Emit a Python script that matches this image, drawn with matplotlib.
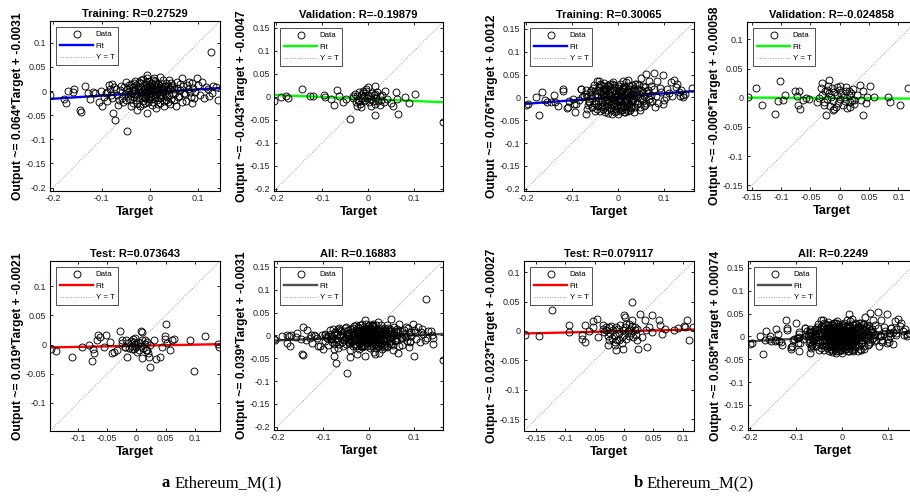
import numpy as np
import matplotlib
matplotlib.use("Agg")
import matplotlib.pyplot as plt
from matplotlib.lines import Line2D
from matplotlib.ticker import FuncFormatter

plt.rcParams['font.family'] = ['Liberation Sans', 'DejaVu Sans']

# ---------------- data (Target, Output) ----------------
a_train = [
    (-0.208, -0.008), (-0.179, -0.016), (-0.173, -0.024), (-0.170, 0.000), (-0.159, -0.003),
    (-0.157, 0.005), (-0.135, 0.011), (-0.145, -0.040), (-0.143, -0.043), (-0.128, -0.005),
    (-0.124, -0.016), (-0.113, -0.005), (-0.106, -0.023), (-0.099, -0.030), (-0.092, -0.005),
    (-0.085, 0.012), (-0.078, 0.015), (-0.076, -0.046), (-0.072, -0.061), (-0.064, -0.018),
    (-0.048, -0.083), (-0.040, -0.032), (-0.026, -0.040), (-0.007, 0.034), (-0.007, -0.045),
    (0.053, -0.032), (0.067, 0.026), (0.097, 0.026), (0.081, 0.019), (0.115, 0.008),
    (0.129, -0.005), (0.141, -0.019), (0.131, 0.010), (0.137, 0.009), (0.126, 0.080),
    (-0.118, -0.002), (-0.101, 0.001), (-0.095, -0.012), (-0.088, -0.020), (-0.081, -0.008),
    (-0.070, 0.004), (-0.066, -0.028), (-0.060, 0.010), (-0.055, -0.022), (-0.050, 0.018),
    (-0.046, -0.010), (-0.043, 0.006), (0.045, 0.012), (0.050, -0.018), (0.056, 0.006),
    (0.060, -0.010), (0.063, 0.015), (0.070, -0.004), (0.074, -0.020), (0.078, 0.004),
    (0.085, -0.012), (0.089, 0.007), (0.093, -0.002), (0.100, 0.012), (0.104, -0.008),
    (0.108, 0.019), (0.112, -0.014), (0.120, 0.004), (0.123, -0.010), (0.088, -0.025),
    (0.040, 0.022), (0.030, -0.030), (0.020, 0.030), (0.012, -0.036), (-0.015, 0.025),
    (-0.020, -0.030), (-0.032, 0.020), (-0.035, -0.024),
    (-0.038, -0.004), (-0.036, 0.008), (-0.034, -0.012), (-0.031, 0.002), (-0.029, -0.018),
    (-0.028, 0.012), (-0.026, -0.006), (-0.024, 0.004), (-0.023, -0.014), (-0.021, 0.016),
    (-0.020, -0.002), (-0.019, 0.008), (-0.017, -0.010), (-0.016, 0.001), (-0.015, -0.020),
    (-0.013, 0.011), (-0.012, -0.005), (-0.011, 0.005), (-0.010, -0.015), (-0.009, 0.019),
    (-0.008, -0.001), (-0.007, 0.009), (-0.006, -0.009), (-0.005, 0.003), (-0.004, -0.022),
    (-0.003, 0.013), (-0.002, -0.006), (-0.001, 0.006), (0.000, -0.013), (0.001, 0.000),
    (0.002, 0.017), (0.003, -0.004), (0.004, 0.008), (0.005, -0.017), (0.006, 0.003),
    (0.007, -0.009), (0.008, 0.012), (0.009, -0.001), (0.010, 0.021), (0.011, -0.012),
    (0.012, 0.005), (0.013, -0.006), (0.014, 0.010), (0.015, -0.019), (0.016, 0.001),
    (0.017, 0.015), (0.018, -0.008), (0.019, 0.006), (0.021, -0.014), (0.022, 0.009),
    (0.023, -0.003), (0.025, 0.014), (0.026, -0.011), (0.027, 0.003), (0.029, -0.020),
    (0.030, 0.008), (0.032, -0.005), (0.033, 0.016), (0.035, -0.013), (0.036, 0.002),
    (0.038, 0.010), (0.040, -0.008), (0.042, 0.004), (0.044, -0.016), (-0.040, 0.014),
    (-0.042, -0.016), (-0.033, 0.017), (-0.027, -0.024), (-0.018, 0.022), (-0.014, -0.026),
    (-0.006, 0.026), (0.004, -0.028), (0.009, 0.026), (0.020, -0.024), (0.028, 0.022),
    (0.037, -0.022), (0.043, 0.017), (0.047, -0.006), (0.049, 0.005), (-0.045, -0.001),
    (-0.048, 0.004), (-0.052, -0.006),
    (-0.088, -0.002), (-0.083, 0.004), (-0.079, -0.014), (-0.074, 0.008), (-0.069, -0.009),
    (-0.063, 0.002), (-0.058, -0.015), (-0.054, 0.009), (-0.049, -0.019), (-0.044, 0.013),
    (-0.041, -0.007), (-0.037, 0.002), (-0.030, -0.009), (-0.025, 0.009), (-0.018, -0.005),
    (-0.013, -0.012), (-0.008, 0.014), (-0.003, -0.016), (0.001, 0.011), (0.006, -0.022),
    (0.011, 0.016), (0.015, -0.003), (0.020, -0.008), (0.024, 0.004), (0.031, 0.011),
    (0.034, -0.018), (0.039, 0.006), (0.041, -0.026), (0.046, 0.009), (0.052, -0.004),
    (0.055, 0.018), (0.058, -0.013), (0.062, 0.002), (0.066, -0.022), (0.069, 0.010),
    (0.073, -0.006), (0.077, 0.013), (0.082, -0.003), (0.086, 0.016), (0.091, -0.015),
    (-0.002, 0.021), (0.007, 0.023), (-0.011, -0.024), (0.017, -0.027), (-0.023, 0.019),
    (-0.034, 0.000), (0.028, -0.001), (0.000, 0.002), (-0.006, -0.003), (0.013, 0.003),
]
a_val = [
    (-0.205, -0.010), (-0.189, -0.001), (-0.179, 0.001), (-0.174, -0.002), (-0.144, 0.018),
    (-0.127, 0.001), (-0.119, 0.001), (-0.096, 0.003), (-0.095, 0.000), (-0.081, -0.005),
    (-0.075, -0.018), (-0.067, 0.015), (-0.063, 0.002), (-0.054, -0.011), (-0.049, -0.005),
    (-0.040, -0.048), (-0.034, 0.001), (-0.025, -0.020), (-0.019, -0.009), (-0.011, 0.013),
    (0.000, 0.022), (0.016, 0.023), (0.015, -0.040), (0.026, -0.018), (0.037, 0.013),
    (0.040, -0.005), (0.049, -0.013), (0.054, -0.020), (0.060, 0.010), (0.063, -0.005),
    (0.065, -0.038), (0.080, -0.001), (0.090, -0.013), (0.101, 0.007), (0.163, -0.054),
    (-0.032, -0.003), (-0.029, 0.006), (-0.027, -0.012), (-0.024, 0.002), (-0.022, -0.007),
    (-0.020, 0.010), (-0.018, -0.016), (-0.016, 0.004), (-0.014, -0.003), (-0.012, 0.008),
    (-0.010, -0.010), (-0.008, 0.001), (-0.006, -0.006), (-0.004, 0.012), (-0.002, -0.002),
    (0.000, 0.005), (0.002, -0.012), (0.004, 0.002), (0.006, -0.004), (0.008, 0.009),
    (0.010, -0.008), (0.012, 0.003), (0.014, -0.015), (0.016, 0.006), (0.018, -0.002),
    (0.020, 0.011), (0.022, -0.010), (0.025, 0.001), (0.028, -0.006), (0.031, 0.004),
    (0.034, -0.012), (-0.005, 0.017), (0.007, -0.019), (-0.015, -0.022),
]
a_test = [
    (-0.147, -0.008), (-0.137, -0.011), (-0.111, -0.022), (-0.094, -0.004), (-0.082, -0.001),
    (-0.076, -0.029), (-0.074, -0.007), (-0.072, -0.014), (-0.065, 0.017), (-0.068, 0.007),
    (-0.062, 0.013), (-0.052, 0.017), (-0.055, -0.004), (-0.045, 0.004), (-0.042, -0.015),
    (-0.039, -0.012), (-0.033, -0.009), (-0.028, 0.023), (-0.025, 0.007), (-0.016, -0.022),
    (-0.019, -0.004), (-0.007, -0.007), (-0.005, 0.004), (0.007, 0.023), (0.010, 0.021),
    (0.009, -0.023), (0.014, 0.007), (0.018, -0.009), (0.021, -0.021), (0.023, -0.039),
    (0.030, 0.007), (0.034, -0.025), (0.040, -0.022), (0.044, -0.004), (0.048, 0.015),
    (0.050, 0.036), (0.049, 0.010), (0.053, 0.002), (0.057, -0.009), (0.061, 0.008),
    (0.064, 0.010), (0.092, 0.007), (0.099, -0.046), (0.117, 0.015), (0.139, 0.001),
    (0.142, -0.005),
    (-0.014, 0.002), (-0.012, -0.006), (-0.010, 0.006), (-0.008, -0.002), (-0.006, 0.009),
    (-0.004, -0.008), (-0.002, 0.001), (0.000, -0.004), (0.002, 0.005), (0.004, -0.009),
    (0.006, 0.002), (0.008, -0.003), (0.010, 0.008), (0.012, -0.006), (0.014, 0.001),
    (0.016, -0.010), (-0.018, 0.008), (-0.020, -0.004), (0.018, 0.004), (-0.003, 0.012),
    (0.001, -0.012), (0.020, -0.014), (0.024, 0.000), (-0.024, 0.002),
]
b_train = [
    (-0.030, 0.031), (-0.012, 0.034), (0.004, 0.030), (0.018, 0.033), (0.030, 0.028),
    (-0.022, 0.027), (0.010, 0.036), (0.045, 0.026),
    (-0.055, 0.020), (-0.042, 0.022), (-0.034, 0.018), (-0.026, 0.021), (-0.017, 0.019),
    (-0.008, 0.023), (0.000, 0.020), (0.008, 0.018), (0.015, 0.022), (0.024, 0.019),
    (0.035, 0.021), (0.050, 0.017), (0.058, 0.022),
    (-0.062, 0.011), (-0.050, 0.008), (-0.040, 0.012), (-0.033, 0.009), (-0.027, 0.013),
    (-0.020, 0.010), (-0.013, 0.012), (-0.006, 0.008), (0.002, 0.011), (0.009, 0.013),
    (0.016, 0.009), (0.022, 0.012), (0.029, 0.008), (0.038, 0.011), (0.046, 0.007),
    (0.055, 0.012), (0.064, 0.009),
    (-0.068, 0.001), (-0.058, -0.002), (-0.047, 0.003), (-0.038, -0.001), (-0.031, 0.002),
    (-0.024, -0.003), (-0.018, 0.001), (-0.011, -0.002), (-0.004, 0.003), (0.003, -0.001),
    (0.010, 0.002), (0.017, -0.003), (0.024, 0.001), (0.031, -0.002), (0.039, 0.002),
    (0.048, -0.001), (0.057, 0.003), (0.066, -0.003),
    (-0.063, -0.009), (-0.052, -0.012), (-0.044, -0.008), (-0.036, -0.011), (-0.028, -0.009),
    (-0.021, -0.013), (-0.014, -0.008), (-0.007, -0.012), (0.000, -0.009), (0.007, -0.011),
    (0.014, -0.007), (0.021, -0.012), (0.028, -0.010), (0.036, -0.008), (0.044, -0.013),
    (0.053, -0.009), (0.061, -0.012),
    (-0.056, -0.021), (-0.045, -0.019), (-0.035, -0.022), (-0.026, -0.018), (-0.017, -0.023),
    (-0.009, -0.019), (-0.002, -0.022), (0.006, -0.018), (0.013, -0.021), (0.020, -0.019),
    (0.028, -0.023), (0.037, -0.020), (0.047, -0.021), (0.056, -0.018),
    (-0.040, -0.029), (-0.028, -0.031), (-0.016, -0.028), (-0.006, -0.032), (0.004, -0.029),
    (0.012, -0.033), (0.022, -0.030), (0.034, -0.031), (-0.022, -0.035), (0.000, -0.036),
    (-0.033, 0.005), (-0.025, -0.006), (-0.015, 0.005), (-0.009, -0.005), (-0.002, 0.006),
    (0.005, -0.005), (0.012, 0.006), (0.019, -0.006), (0.026, 0.005), (0.033, -0.005),
    (-0.029, 0.016), (-0.010, 0.016), (0.006, 0.015), (0.020, 0.015), (-0.031, -0.016),
    (-0.012, -0.015), (0.004, -0.014), (0.024, -0.016), (-0.019, 0.024), (0.012, 0.025),
    (-0.004, -0.025), (0.016, -0.026),
    (-0.060, 0.016), (-0.048, -0.014), (-0.043, 0.017), (-0.037, -0.018), (-0.030, 0.024),
    (-0.023, 0.006), (-0.016, -0.017), (-0.010, 0.027), (-0.003, -0.016), (0.001, 0.025),
    (0.007, -0.024), (0.011, 0.020), (0.018, -0.015), (0.023, 0.025), (0.027, -0.005),
    (0.032, 0.017), (0.040, -0.015), (0.043, 0.018), (0.051, -0.004), (0.054, 0.025),
    (0.059, -0.016), (0.065, 0.017), (0.071, 0.005), (0.074, -0.008), (-0.070, 0.008),
    (-0.066, -0.017), (-0.053, 0.027), (-0.046, -0.025), (-0.038, 0.026), (-0.024, -0.027),
    (-0.013, 0.030), (-0.008, 0.001), (-0.001, -0.004), (0.006, 0.004), (0.013, -0.010),
    (-0.019, -0.009), (-0.027, 0.000), (0.020, 0.005), (0.028, 0.014), (0.035, 0.005),
    (-0.034, 0.013), (0.001, 0.015), (-0.005, -0.030), (0.009, -0.027), (0.026, -0.027),
    (0.041, 0.030), (-0.050, 0.013), (0.047, -0.028),
    (-0.201, -0.016), (-0.196, -0.015), (-0.178, 0.000), (-0.165, 0.011), (-0.173, -0.039),
    (-0.160, -0.006), (-0.146, -0.011), (-0.139, 0.006), (-0.132, -0.019), (-0.121, 0.019),
    (-0.120, 0.013), (-0.112, -0.024), (-0.107, -0.007), (-0.096, -0.015), (-0.093, -0.031),
    (-0.082, 0.019), (-0.078, 0.000), (-0.071, 0.016), (-0.070, -0.036), (-0.064, -0.011),
    (-0.057, -0.022), (-0.046, 0.036), (-0.039, 0.030), (-0.032, -0.026), (-0.018, 0.030),
    (-0.014, -0.037), (0.014, -0.033), (0.021, 0.039), (0.027, -0.022), (0.036, 0.030),
    (0.050, 0.043), (0.061, 0.052), (0.077, 0.053), (0.068, 0.035), (0.085, 0.035),
    (0.060, 0.015), (0.070, -0.011), (0.087, -0.013), (0.093, 0.011), (0.107, 0.019),
    (0.114, 0.033), (0.121, 0.037), (0.125, 0.022), (0.117, 0.004), (0.135, 0.004),
    (0.141, 0.000), (0.161, 0.020), (0.136, 0.017), (0.140, 0.006), (0.097, 0.048),
    (0.132, 0.011), (0.146, 0.007), (0.103, 0.000), (0.097, -0.015), (0.083, 0.004),
    (0.079, 0.019), (-0.154, -0.011), (-0.138, -0.011), (-0.110, -0.022), (-0.099, -0.004),
    (-0.092, -0.015), (-0.080, 0.019), (-0.074, 0.004), (-0.067, -0.026), (-0.042, 0.036),
    (-0.085, -0.005), (-0.060, 0.005), (-0.050, -0.030), (0.072, 0.025), (0.080, -0.020),
    (0.090, 0.020), (0.100, -0.006), (0.110, 0.010), (0.128, 0.030),
]
b_val = [
    (-0.157, 0.001), (-0.143, 0.016), (-0.133, -0.013), (-0.111, -0.027), (-0.105, -0.006),
    (-0.101, 0.029), (-0.097, -0.003), (-0.094, 0.005), (-0.076, 0.011), (-0.072, 0.003),
    (-0.069, 0.012), (-0.071, -0.012), (-0.067, -0.020), (-0.062, -0.003), (-0.057, -0.001),
    (-0.053, -0.002), (-0.039, -0.008), (-0.036, -0.001), (-0.032, 0.016), (-0.030, 0.025),
    (-0.018, 0.030), (-0.023, -0.030), (-0.026, -0.013), (-0.022, 0.013), (-0.009, -0.020),
    (-0.005, 0.019), (0.016, 0.012), (0.018, -0.015), (0.024, -0.003), (0.034, 0.022),
    (0.037, -0.003), (0.040, 0.011), (0.040, -0.030), (0.044, -0.009), (0.047, 0.002),
    (0.052, 0.020), (0.059, 0.002), (0.082, 0.001), (0.086, -0.007), (0.102, -0.012),
    (0.117, 0.016),
    (-0.030, 0.005), (-0.027, -0.008), (-0.025, 0.012), (-0.022, -0.002), (-0.019, 0.008),
    (-0.017, -0.014), (-0.015, 0.002), (-0.013, 0.017), (-0.011, -0.006), (-0.009, 0.010),
    (-0.007, -0.016), (-0.005, 0.004), (-0.003, -0.009), (-0.001, 0.014), (0.001, -0.002),
    (0.003, 0.007), (0.005, -0.012), (0.007, 0.002), (0.009, -0.005), (0.011, 0.011),
    (0.013, -0.018), (0.015, 0.004), (0.017, -0.008), (0.019, 0.009), (0.021, -0.003),
    (0.023, 0.015), (0.025, -0.011), (-0.020, 0.020), (0.000, 0.021), (-0.012, -0.021),
    (0.010, 0.018), (0.029, 0.005),
]
b_test = [
    (-0.169, -0.007), (-0.144, -0.008), (-0.123, 0.036), (-0.093, 0.010), (-0.093, -0.002),
    (-0.072, -0.006), (-0.067, 0.010), (-0.072, -0.014), (-0.066, -0.019), (-0.060, 0.000),
    (-0.053, 0.017), (-0.052, 0.007), (-0.046, 0.021), (-0.044, -0.010), (-0.035, 0.010),
    (-0.031, 0.007), (-0.027, -0.024), (-0.025, -0.016), (-0.016, -0.024), (-0.013, -0.032),
    (-0.008, -0.016), (-0.003, -0.021), (-0.002, -0.030), (0.000, 0.027), (0.002, 0.023),
    (0.009, 0.012), (0.013, 0.019), (0.014, 0.050), (0.019, 0.007), (0.022, -0.016),
    (0.024, -0.031), (0.028, 0.029), (0.031, -0.010), (0.035, 0.019), (0.038, 0.001),
    (0.039, -0.027), (0.043, 0.007), (0.048, 0.028), (0.048, -0.002), (0.059, 0.018),
    (0.062, 0.010), (0.065, -0.005), (0.069, 0.004), (0.085, 0.001), (0.092, 0.005),
    (0.102, 0.008), (0.107, 0.018), (0.110, -0.016), (0.118, 0.007), (0.103, 0.007),
    (-0.030, 0.002), (-0.028, -0.008), (-0.026, 0.006), (-0.024, -0.003), (-0.022, 0.009),
    (-0.020, -0.012), (-0.018, 0.001), (-0.016, -0.006), (-0.014, 0.007), (-0.012, -0.015),
    (-0.010, 0.003), (-0.008, -0.004), (-0.006, 0.010), (-0.004, -0.010), (-0.002, 0.002),
    (0.000, -0.006), (0.002, 0.006), (0.004, -0.013), (0.006, 0.000), (0.008, -0.008),
    (0.010, 0.004), (0.012, -0.003), (0.014, 0.009), (0.016, -0.011), (0.018, 0.002),
    (-0.034, -0.002), (-0.036, 0.004), (0.020, -0.006), (0.022, 0.004), (-0.015, -0.018),
    (0.003, 0.012),
]

# titles and fit equations as printed on each panel
a_titles = ["Training: R=0.27529", "Validation: R=-0.19879", "Test: R=0.073643", "All: R=0.16883"]
a_fits = [("0.064", "-0.0031"), ("-0.043", "-0.0047"), ("0.019", "-0.0021"), ("0.039", "-0.0031")]
b_titles = ["Training: R=0.30065", "Validation: R=-0.024858", "Test: R=0.079117", "All: R=0.2249"]
b_fits = [("0.076", "0.0012"), ("-0.006", "-0.00058"), ("0.023", "-0.00027"), ("0.058", "0.00074")]
fit_colors = ["#0000ff", "#00ff00", "#ff0000", "#505050"]

W, H = 910, 499
fig = plt.figure(figsize=(W / 100, H / 100), dpi=100)


def rect(l, t, r, b):
    return [l / W, 1 - b / H, (r - l) / W, (b - t) / H]


fmt = FuncFormatter(lambda v, p: ("%g" % round(v, 4)))


def panel(box, pts, title, fit, color, lim, xt, yt):
    ax = fig.add_axes(rect(*box))
    pts = np.array(pts)
    m, c = float(fit[0]), float(fit[1])
    xl = np.array(lim)
    ax.plot(xl, xl, ':', color='#9a9a9a', lw=0.7, zorder=1)
    ax.plot(xl, m * xl + c, '-', color=color, lw=1.7, zorder=2)
    ax.plot(pts[:, 0], pts[:, 1], 'o', mfc='none', mec='black', ms=5.0, mew=0.65, zorder=3)
    ax.set_xlim(lim)
    ax.set_ylim(lim)
    ax.set_xticks(xt)
    ax.set_yticks(yt)
    ax.xaxis.set_major_formatter(fmt)
    ax.yaxis.set_major_formatter(fmt)
    ax.tick_params(direction='in', top=True, right=True, length=2.5, width=0.6,
                   labelsize=6.5, labelcolor='#262626', pad=2.5)
    for s in ax.spines.values():
        s.set_linewidth(0.8)
    ax.set_title(title, fontsize=8, fontweight='bold', pad=3)
    ax.set_xlabel("Target", fontsize=9.2, fontweight='bold', labelpad=2)
    ax.set_ylabel("Output ~= %s*Target + %s" % fit, fontsize=8.7, fontweight='bold', labelpad=1.5)
    handles = [Line2D([], [], ls='none', marker='o', mfc='none', mec='black', ms=5.0, mew=0.65),
               Line2D([], [], color=color, lw=1.7),
               Line2D([], [], ls=':', color='#9a9a9a', lw=0.7)]
    leg = ax.legend(handles, ["Data", "Fit", "Y = T"], loc='upper left', fontsize=5.7,
                    frameon=True, fancybox=False, handlelength=4.2, handletextpad=0.3,
                    labelspacing=0.5, borderpad=0.45, borderaxespad=0.8)
    leg.get_frame().set_edgecolor('black')
    leg.get_frame().set_linewidth(0.6)
    return ax


a_all = a_train + a_val + a_test
b_all = b_train + b_val + b_test

tA = [-0.2, -0.1, 0, 0.1]
yA = [-0.2, -0.15, -0.1, -0.05, 0, 0.05, 0.1, 0.15]
y1 = [-0.2, -0.15, -0.1, -0.05, 0, 0.05, 0.1]
t5 = [-0.15, -0.1, -0.05, 0, 0.05, 0.1]

panel((50, 21, 220, 191), a_train, a_titles[0], a_fits[0], fit_colors[0], (-0.207, 0.145), tA, y1)
panel((274, 22, 443, 191), a_val, a_titles[1], a_fits[1], fit_colors[1], (-0.205, 0.163), tA, yA)
panel((50, 261, 220, 431), a_test, a_titles[2], a_fits[2], fit_colors[2], (-0.148, 0.143),
      [-0.1, -0.05, 0, 0.05, 0.1], [-0.1, -0.05, 0, 0.05, 0.1])
panel((274, 261, 443, 430), a_all, a_titles[3], a_fits[3], fit_colors[3], (-0.207, 0.163), tA, yA)

panel((524, 22, 694, 191), b_train, b_titles[0], b_fits[0], fit_colors[0], (-0.205, 0.165), tA, yA)
panel((747, 22, 916, 190), b_val, b_titles[1], b_fits[1], fit_colors[1], (-0.158, 0.130), t5, t5)
panel((524, 261, 694, 431), b_test, b_titles[2], b_fits[2], fit_colors[2], (-0.170, 0.119), t5, t5)
panel((748, 261, 918, 430), b_all, b_titles[3], b_fits[3], fit_colors[3], (-0.205, 0.165), tA, yA)

cap = dict(fontsize=12, family=['Liberation Serif', 'DejaVu Serif'], va='center')
fig.text(162 / W, 1 - 483 / H, "a", fontweight='bold', ha='left', **cap)
fig.text(175 / W, 1 - 483 / H, "Ethereum_M(1)", ha='left', **cap)
fig.text(634 / W, 1 - 483 / H, "b", fontweight='bold', ha='left', **cap)
fig.text(647 / W, 1 - 483 / H, "Ethereum_M(2)", ha='left', **cap)

fig.savefig("out.png", dpi=100)
